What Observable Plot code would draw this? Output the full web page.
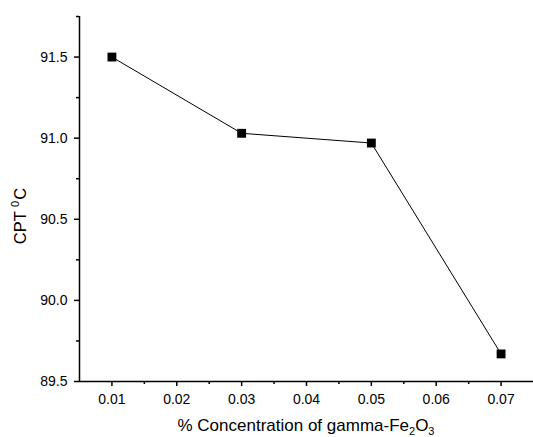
<!DOCTYPE html>
<html>
<head>
<meta charset="utf-8">
<script src="https://cdn.jsdelivr.net/npm/d3@7"></script>
<script src="https://cdn.jsdelivr.net/npm/@observablehq/plot@0.6"></script>
<style>
  html, body { margin: 0; padding: 0; background: white; }
</style>
</head>
<body>
<div id="chart"></div>
<script>
const concentration = [0.01, 0.03, 0.05, 0.07];
const cpt = [91.5, 91.03, 90.97, 89.67];
const xMajorTicks = [0.01, 0.02, 0.03, 0.04, 0.05, 0.06, 0.07];
const xMinorTicks = [0.015, 0.025, 0.035, 0.045, 0.055, 0.065];
const yMajorTicks = [89.5, 90.0, 90.5, 91.0, 91.5];
const yMinorTicks = [89.75, 90.25, 90.75, 91.25, 91.75];
const xTitle = "% Concentration of gamma-Fe";
const yTitle = "CPT ";

const data = concentration.map((c, i) => ({x: c, y: cpt[i]}));

const fontFamily = "'Liberation Sans', Arial, Helvetica, sans-serif";

const svg = Plot.plot({
  width: 533,
  height: 437,
  marginLeft: 79,
  marginRight: 0,
  marginTop: 16,
  marginBottom: 56,
  style: {fontFamily, fontSize: "14px", background: "white", color: "black", overflow: "visible"},
  x: {domain: [0.005, 0.075]},
  y: {domain: [89.5, 91.75]},
  marks: [
    Plot.axisX(xMajorTicks, {tickSize: 5, tickPadding: 8, tickFormat: d3.format(".2f"), label: null, strokeWidth: 1.5, stroke: "black", fill: "black", fontSize: 14}),
    Plot.axisX(xMinorTicks, {tickSize: 3, tickFormat: () => "", label: null, strokeWidth: 1.5, stroke: "black"}),
    Plot.axisY(yMajorTicks, {tickSize: 5, tickPadding: 7, tickFormat: d3.format(".1f"), label: null, strokeWidth: 1.5, stroke: "black", fill: "black", fontSize: 14}),
    Plot.axisY(yMinorTicks, {tickSize: 3, tickFormat: () => "", label: null, strokeWidth: 1.5, stroke: "black"}),
    Plot.ruleX([0.005], {stroke: "black", strokeWidth: 1.5}),
    Plot.ruleY([89.5], {stroke: "black", strokeWidth: 1.5}),
    Plot.line(data, {x: "x", y: "y", stroke: "black", strokeWidth: 1}),
    Plot.dot(data, {x: "x", y: "y", symbol: "square", r: 5, fill: "black", stroke: "none"})
  ]
});

const s = d3.select(svg);
// x axis title with subscripts
const xt = s.append("text")
  .attr("x", 306).attr("y", 431)
  .attr("text-anchor", "middle")
  .attr("font-family", fontFamily)
  .attr("font-size", 17)
  .attr("fill", "black");
xt.append("tspan").text(xTitle);
xt.append("tspan").attr("font-size", 11).attr("dy", 4).text("2");
xt.append("tspan").attr("dy", -4).text("O");
xt.append("tspan").attr("font-size", 11).attr("dy", 4).text("3");

// y axis title with superscript
const yt = s.append("text")
  .attr("transform", "translate(26,216) rotate(-90)")
  .attr("text-anchor", "middle")
  .attr("font-family", fontFamily)
  .attr("font-size", 16.5)
  .attr("fill", "black");
yt.append("tspan").text(yTitle);
yt.append("tspan").attr("font-size", 11).attr("dy", -7).text("0");
yt.append("tspan").attr("dy", 7).attr("dx", 1).text("C");

document.getElementById("chart").appendChild(svg);
</script>
</body>
</html>
